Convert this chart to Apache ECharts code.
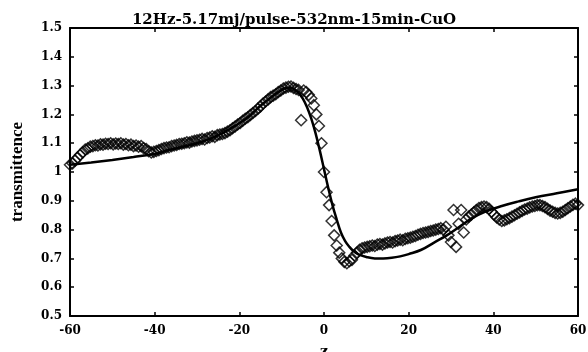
<!DOCTYPE html>
<html>
<head>
<meta charset="utf-8">
<script src="https://cdn.jsdelivr.net/npm/echarts@6/dist/echarts.min.js"></script>
<style>html,body{margin:0;padding:0;background:#fff;}#c{width:588px;height:352px;}</style>
</head>
<body>
<div id="c"></div>
<script>
const titleText = "12Hz-5.17mj/pulse-532nm-15min-CuO";
const xName = "z";
const yName = "transmittence";
const xTicks = [-60, -40, -20, 0, 20, 40, 60];
const yTicks = [0.5, 0.6, 0.7, 0.8, 0.9, 1.0, 1.1, 1.2, 1.3, 1.4, 1.5];

// measured points [z, transmittance] (diamonds)
const measured = [
[-60,1.025],[-59.4,1.03],[-58.8,1.04],[-58.2,1.05],[-57.6,1.06],[-57,1.068],[-56.4,1.078],[-55.8,1.082],[-55.2,1.088],[-54.6,1.09],
[-54,1.093],[-53.4,1.092],[-52.8,1.096],[-52.2,1.095],[-51.6,1.098],[-51,1.097],[-50.4,1.1],[-49.8,1.096],[-49.2,1.099],[-48.6,1.097],
[-48,1.1],[-47.4,1.095],[-46.8,1.097],[-46.2,1.093],[-45.6,1.095],[-45,1.09],[-44.4,1.092],[-43.8,1.088],[-43.2,1.09],[-42.6,1.083],
[-42,1.08],[-41.4,1.072],[-40.8,1.068],[-40.2,1.07],[-39.6,1.073],[-39,1.076],[-38.4,1.08],[-37.8,1.083],[-37.2,1.085],[-36.6,1.086],
[-36,1.09],[-35.4,1.092],[-34.8,1.094],[-34.2,1.097],[-33.6,1.098],[-33,1.1],[-32.4,1.103],[-31.8,1.102],[-31.2,1.106],[-30.6,1.108],
[-30,1.11],[-29.4,1.112],[-28.8,1.115],[-28.2,1.113],[-27.6,1.118],[-27,1.12],[-26.4,1.124],[-25.8,1.122],[-25.2,1.128],[-24.6,1.13],
[-24,1.132],[-23.4,1.135],[-22.8,1.14],[-22.2,1.145],[-21.6,1.152],[-21,1.158],[-20.4,1.165],[-19.8,1.17],[-19.2,1.178],[-18.6,1.185],
[-18,1.19],[-17.4,1.198],[-16.8,1.205],[-16.2,1.212],[-15.6,1.22],[-15,1.228],[-14.4,1.238],[-13.8,1.245],[-13.2,1.252],[-12.6,1.26],
[-12,1.265],[-11.4,1.27],[-10.8,1.278],[-10.2,1.283],[-9.6,1.29],[-9,1.293],[-8.4,1.296],[-7.8,1.297],[-7.2,1.292],[-6.6,1.288],
[-6,1.285],[-5.4,1.18],[-4.8,1.283],[-4.2,1.278],[-3.6,1.268],[-3,1.255],[-2.4,1.232],[-1.8,1.2],[-1.2,1.16],[-0.6,1.1],
[0,1.0],[0.6,0.93],[1.2,0.885],[1.8,0.83],[2.4,0.78],[3,0.745],[3.6,0.72],[4.2,0.7],[4.8,0.688],[5.4,0.683],
[6,0.69],[6.6,0.695],[7.2,0.71],[7.8,0.72],[8.4,0.73],[9,0.735],[9.6,0.738],[10.2,0.74],[10.8,0.742],[11.4,0.745],
[12,0.743],[12.6,0.748],[13.2,0.75],[13.8,0.748],[14.4,0.752],[15,0.755],[15.6,0.757],[16.2,0.755],[16.8,0.76],[17.4,0.762],
[18,0.765],[18.6,0.763],[19.2,0.768],[19.8,0.77],[20.4,0.772],[21,0.775],[21.6,0.778],[22.2,0.782],[22.8,0.785],[23.4,0.788],
[24,0.79],[24.6,0.792],[25.2,0.795],[25.8,0.797],[26.4,0.8],[27,0.802],[27.6,0.805],[28.2,0.8],[28.8,0.81],[29.4,0.78],
[30,0.757],[30.6,0.868],[31.2,0.74],[31.8,0.82],[32.4,0.868],[33,0.79],[33.6,0.835],[34.2,0.845],[34.8,0.852],[35.4,0.86],
[36,0.868],[36.6,0.875],[37.2,0.878],[37.8,0.88],[38.4,0.878],[39,0.872],[39.6,0.862],[40.2,0.852],[40.8,0.842],[41.4,0.835],
[42,0.83],[42.6,0.832],[43.2,0.836],[43.8,0.84],[44.4,0.845],[45,0.85],[45.6,0.855],[46.2,0.86],[46.8,0.865],[47.4,0.87],
[48,0.873],[48.6,0.877],[49.2,0.88],[49.8,0.882],[50.4,0.885],[51,0.885],[51.6,0.882],[52.2,0.878],[52.8,0.872],[53.4,0.866],
[54,0.862],[54.6,0.858],[55.2,0.856],[55.8,0.858],[56.4,0.862],[57,0.868],[57.6,0.874],[58.2,0.88],[58.8,0.886],[59.4,0.89],
[60,0.885]
];

// fitted curve [z, transmittance] (solid line)
const fitted = [
[-60,1.025],[-55,1.033],[-50,1.042],[-45,1.052],[-40,1.063],[-37,1.075],[-34,1.085],[-30,1.1],[-27,1.115],[-24,1.135],
[-21,1.16],[-18,1.19],[-15,1.23],[-12,1.265],[-10,1.285],[-9,1.292],[-8,1.293],[-7,1.287],[-6,1.275],[-5,1.255],
[-4,1.225],[-3,1.185],[-2,1.135],[-1,1.075],[0,1.01],[1,0.945],[2,0.885],[3,0.835],[4,0.79],[5,0.76],
[6,0.74],[7,0.725],[8,0.715],[10,0.705],[12,0.7],[14,0.7],[16,0.702],[18,0.707],[20,0.715],[23,0.73],
[26,0.755],[29,0.78],[32,0.81],[35,0.84],[38,0.862],[42,0.882],[46,0.898],[50,0.912],[55,0.926],[60,0.94]
];

const SERIF = "DejaVu Serif";
const chart = echarts.init(document.getElementById('c'), null, {renderer: 'canvas'});
const axisLine = {show: true, onZero: false, lineStyle: {color: '#000', width: 2}};
const tick = {show: true, inside: true, length: 4, lineStyle: {color: '#000', width: 1.5}};
const fmt = v => { const r = Math.round(v * 10) / 10; return String(r); };
const labelStyle = {fontFamily: SERIF, fontWeight: 'bold', fontSize: 12, color: '#000'};
chart.setOption({
  animation: false,
  backgroundColor: '#fff',
  title: {
    text: titleText, left: 289, top: 8, textAlign: 'center',
    textStyle: {fontFamily: SERIF, fontWeight: 'bold', fontSize: 15, color: '#000'}
  },
  grid: {left: 70, right: 10, top: 28, bottom: 36, outerBoundsMode: 'none', containLabel: false},
  xAxis: [{
    type: 'value', min: xTicks[0], max: xTicks[xTicks.length - 1], interval: 20,
    position: 'bottom', axisLine: axisLine, axisTick: tick, splitLine: {show: false},
    axisLabel: Object.assign({margin: 9}, labelStyle),
    name: xName, nameLocation: 'middle', nameGap: 29,
    nameTextStyle: {fontFamily: SERIF, fontWeight: 'bold', fontSize: 14, color: '#000'}
  }, {
    type: 'value', min: xTicks[0], max: xTicks[xTicks.length - 1], interval: 20,
    position: 'top', axisLine: axisLine, axisTick: tick, splitLine: {show: false},
    axisLabel: {show: false}
  }],
  yAxis: [{
    type: 'value', min: yTicks[0], max: yTicks[yTicks.length - 1], interval: 0.1,
    position: 'left', axisLine: axisLine, axisTick: tick, splitLine: {show: false},
    axisLabel: Object.assign({margin: 8, formatter: fmt}, labelStyle),
    name: yName, nameLocation: 'middle', nameGap: 44, nameRotate: 90,
    nameTextStyle: {fontFamily: "Liberation Serif", fontWeight: 'bold', fontSize: 17, color: '#000'}
  }, {
    type: 'value', min: yTicks[0], max: yTicks[yTicks.length - 1], interval: 0.1,
    position: 'right', axisLine: axisLine, axisTick: tick, splitLine: {show: false},
    axisLabel: {show: false}
  }],
  series: [{
    type: 'scatter', data: measured, symbol: 'diamond', symbolSize: [11, 11],
    itemStyle: {color: 'rgba(255,255,255,0)', borderColor: '#000', borderWidth: 1.5},
    z: 2
  }, {
    type: 'line', data: fitted, smooth: 0.4, showSymbol: false, symbol: 'none',
    lineStyle: {color: '#000', width: 2.5}, z: 3
  }]
});
</script>
</body>
</html>
